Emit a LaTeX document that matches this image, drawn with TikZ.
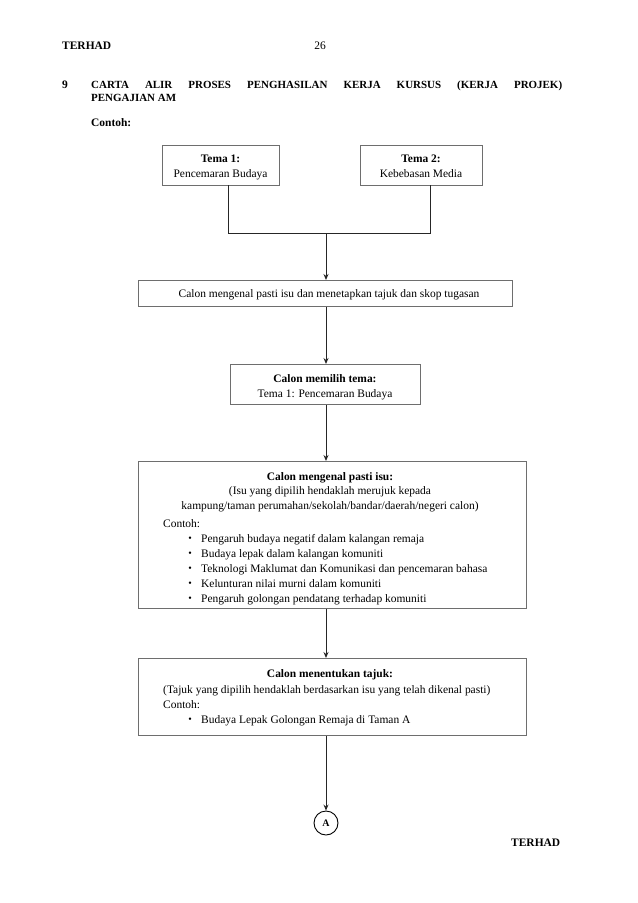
\documentclass[tikz,border=0pt]{standalone}
\usepackage{fontspec}
\setmainfont{Liberation Serif}
\usetikzlibrary{arrows.meta}
\definecolor{boxgray}{RGB}{110,110,110}
\begin{document}
\begin{tikzpicture}[x=1bp,y=-1bp,
  box/.style={draw=boxgray, line width=1bp, inner sep=0, anchor=north west},
  conn/.style={line width=1bp, draw=black!85},
  arr/.style={conn, -{Stealth[length=6bp,width=5bp]}},
  bodyfont/.style={font=\fontsize{11.5}{13}\selectfont},
  boldfont/.style={font=\fontsize{11.5}{13}\selectfont\bfseries},
  txt/.style={anchor=base west, inner sep=0, bodyfont},
  ctxt/.style={anchor=base, inner sep=0, bodyfont},
  btxt/.style={anchor=base, inner sep=0, boldfont},
  hdr/.style={anchor=base west, inner sep=0, font=\fontsize{11.5}{13}\selectfont\bfseries},
  bul/.style={anchor=base, inner sep=0, font=\fontsize{10}{11}\selectfont}]
\useasboundingbox (0,0) rectangle (638,903);
% header
\node[hdr] (terhad1) at (62,49) {TERHAD};
\node[anchor=base, inner sep=0, font=\fontsize{11.5}{13}\selectfont] (page) at (320,49) {26};
\node[anchor=base west, inner sep=0, text width=471bp, align=justify, font=\fontsize{11}{14}\selectfont\bfseries] (title) at (91,88)
  {CARTA ALIR PROSES PENGHASILAN KERJA KURSUS (KERJA PROJEK)\linebreak PENGAJIAN AM};
\node[hdr] (num) at (62,88) {9};
\node[hdr] (contoh) at (91,126) {Contoh:};
% boxes
\node[box, minimum width=117bp, minimum height=40bp] (t1) at (162,145) {};
\node[box, minimum width=122bp, minimum height=40bp] (t2) at (360,145) {};
\node[box, minimum width=374bp, minimum height=26bp] (b1) at (138,280) {};
\node[box, minimum width=190bp, minimum height=40bp] (b2) at (230,364) {};
\node[box, minimum width=388bp, minimum height=147bp] (b3) at (138,461) {};
\node[box, minimum width=388bp, minimum height=77bp] (b4) at (138,658) {};
\node[draw=black, line width=0.9bp, circle, minimum size=24bp, inner sep=0, font=\fontsize{10}{11}\selectfont\bfseries] (A) at (326,823) {A};
% texts
\node[btxt] at (220.5,162) {Tema 1:};
\node[ctxt] at (220.5,177) {Pencemaran Budaya};
\node[btxt] at (421,162) {Tema 2:};
\node[ctxt] at (421,177) {Kebebasan Media};
\node[ctxt] at (329,297) {Calon mengenal pasti isu dan menetapkan tajuk dan skop tugasan};
\node[btxt] at (325,382) {Calon memilih tema:};
\node[ctxt] at (325,397) {Tema 1: Pencemaran Budaya};
\node[btxt] at (330,480) {Calon mengenal pasti isu:};
\node[ctxt] at (330,494) {(Isu yang dipilih hendaklah merujuk kepada};
\node[ctxt] at (330,509) {kampung/taman perumahan/sekolah/bandar/daerah/negeri calon)};
\node[txt] at (163,527) {Contoh:};
\foreach \yy/\tt in {542/Pengaruh budaya negatif dalam kalangan remaja,
                     557/Budaya lepak dalam kalangan komuniti,
                     572/Teknologi Maklumat dan Komunikasi dan pencemaran bahasa,
                     587/Kelunturan nilai murni dalam komuniti,
                     602/Pengaruh golongan pendatang terhadap komuniti}{
  \node[bul] at (190,\yy-1) {•};
  \node[txt] at (201,\yy) {\tt};
}
\node[btxt] at (330,677) {Calon menentukan tajuk:};
\node[txt] at (163,693) {(Tajuk yang dipilih hendaklah berdasarkan isu yang telah dikenal pasti)};
\node[txt] at (163,708) {Contoh:};
\node[bul] at (190,722) {•};
\node[txt] at (201,723) {Budaya Lepak Golongan Remaja di Taman A};
\node[hdr] (terhad2) at (511,846) {TERHAD};
% connectors
\coordinate (l1) at (228,185);
\coordinate (l2) at (430,185);
\coordinate (j) at (326,233);
\draw[conn] (l1) -- (l1 |- j) -- (l2 |- j) -- (l2);
\draw[arr] (j) -- (j |- b1.north);
\draw[arr] (j |- b1.south) -- (j |- b2.north);
\draw[arr] (j |- b2.south) -- (j |- b3.north);
\draw[arr] (j |- b3.south) -- (j |- b4.north);
\draw[arr] (j |- b4.south) -- (A.north);
\end{tikzpicture}
\end{document}
